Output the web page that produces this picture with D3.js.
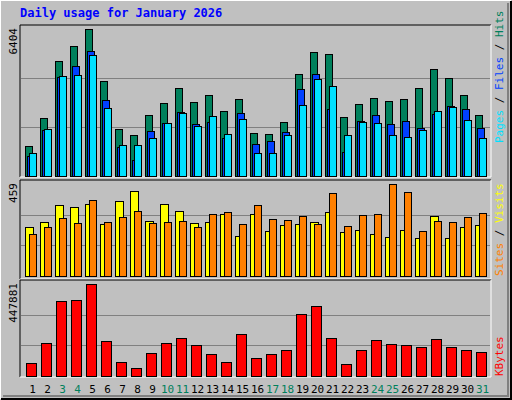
<!DOCTYPE html>
<html><head><meta charset="utf-8">
<script src="https://cdn.jsdelivr.net/npm/d3@7"></script>
<style>body{margin:0;background:#fff}svg{display:block}</style>
</head><body><svg id="c" width="512" height="400"></svg>
<script>
const days = d3.range(1,32);
const weekends = [3,4,10,11,17,18,24,25,31];
const hits  = [1295,2517,5005,5660,6404,4132,2037,1775,2648,3172,3827,3216,3521,2823,3347,1862,1819,2343,4438,5398,5311,2561,3128,3390,3259,3347,3827,4656,4263,3521,2648];
const files = [873,1993,4307,4787,5442,3303,1251,684,1950,2299,2779,2255,2343,1644,2735,1382,1513,1906,3783,4438,2910,1033,2386,2648,2255,2386,2081,2692,3041,2910,2081];
const pages = [989,2037,4351,4394,5267,2954,1339,1339,1644,2299,2735,2168,2604,1819,2473,989,989,1775,3085,4220,3914,1775,2343,2299,1775,1688,1993,2823,2997,2430,1644];
const sites = [244,269,354,344,359,259,374,424,274,359,324,264,269,309,200,309,225,254,259,269,319,220,230,210,195,230,190,299,190,244,254];
const visits= [210,244,289,264,379,269,294,324,264,269,274,244,309,319,259,354,284,279,299,259,414,249,304,309,459,419,225,274,269,294,314];
const kbytes= [65000,163000,365000,369000,447881,168000,70000,41000,114000,159000,183000,149000,105000,70000,203000,90000,105000,129000,301000,340000,183000,56000,129000,173000,154000,149000,139000,178000,139000,129000,119000];

const svg = d3.select("#c");
const font = "DejaVu Sans Mono, monospace";
// background + bevel
svg.append("rect").attr("width",512).attr("height",400).attr("fill","#c0c0c0");
svg.append("path").attr("d","M0,399V0H511").attr("stroke","#fff").attr("stroke-width",2).attr("fill","none");
svg.append("path").attr("d","M1,399H511V1").attr("stroke","#000").attr("stroke-width",2).attr("fill","none");
svg.append("path").attr("d","M3,396H508V3").attr("stroke","#808080").attr("stroke-width",2).attr("fill","none");
svg.append("text").attr("x",20).attr("y",17).attr("fill","#0000ff").attr("font-family",font)
  .attr("font-weight","bold").attr("font-size",12).text("Daily usage for January 2026");

const x = d3.scaleBand().domain(days).range([24,489]).padding(0);

function panel(top,bottom,barBottom,maxVal,label){
  svg.append("rect").attr("x",20).attr("y",top).attr("width",471).attr("height",bottom-top)
    .attr("fill","#c0c0c0").attr("stroke","none");
  svg.append("path").attr("d",`M20,${bottom}V${top}H491`).attr("stroke","#000").attr("fill","none");
  svg.append("path").attr("d",`M20,${bottom}H491V${top}`).attr("stroke","#fff").attr("fill","none");
  const y = d3.scaleLinear().domain([0,maxVal]).range([barBottom,top+4]);
  const h = barBottom-(top+4);
  [1/3,2/3].forEach(f=>svg.append("line").attr("x1",21).attr("x2",490)
    .attr("y1",Math.round(barBottom-h*f*1.0)+0.5).attr("y2",Math.round(barBottom-h*f)+0.5).attr("stroke","#808080"));
  svg.append("text").attr("transform",`translate(17,${top+3}) rotate(-90)`).attr("text-anchor","end")
    .attr("font-family",font).attr("font-size",11).attr("fill","#000").text(label);
  return y;
}
function bars(y,data,off,w,color){
  svg.append("g").selectAll("rect").data(data).join("rect")
    .attr("x",(d,i)=>x(days[i])+off+0.5).attr("y",d=>Math.round(y(d))+0.5)
    .attr("width",w).attr("height",d=>y(0)-Math.round(y(d)))
    .attr("fill",color).attr("stroke","#000");
}
const y1 = panel(25,177,176,6404,"6404");
bars(y1,hits,1,7,"#00805c");
bars(y1,files,3,7,"#0040ff");
bars(y1,pages,5,7,"#00e0ff");
const y2 = panel(180,279,276,459,"459");
bars(y2,sites,1,8,"#ffff00");
bars(y2,visits,5,7,"#ff8000");
const y3 = panel(280,377,376,447881,"447881");
bars(y3,kbytes,2,10,"#ff0000");

svg.append("g").selectAll("text").data(days).join("text")
  .attr("x",d=>x(d)+x.bandwidth()/2+1).attr("y",393).attr("text-anchor","middle")
  .attr("font-family",font).attr("font-size",11)
  .attr("fill",d=>weekends.includes(d)?"#00805c":"#000").text(d=>d);

function legend(yEnd,parts){
  const t = svg.append("text").attr("transform",`translate(503,${yEnd}) rotate(-90)`)
    .attr("font-family",font).attr("font-size",11);
  parts.forEach(([s,c])=>t.append("tspan").attr("fill",c).text(s));
}
legend(143,[["Pages","#00e0ff"],[" / ","#000"],["Files","#0040ff"],[" / ","#000"],["Hits","#00805c"]]);
legend(276,[["Sites","#ff8000"],[" / ","#000"],["Visits","#ffff00"]]);
legend(376,[["KBytes","#ff0000"]]);
</script></body></html>
